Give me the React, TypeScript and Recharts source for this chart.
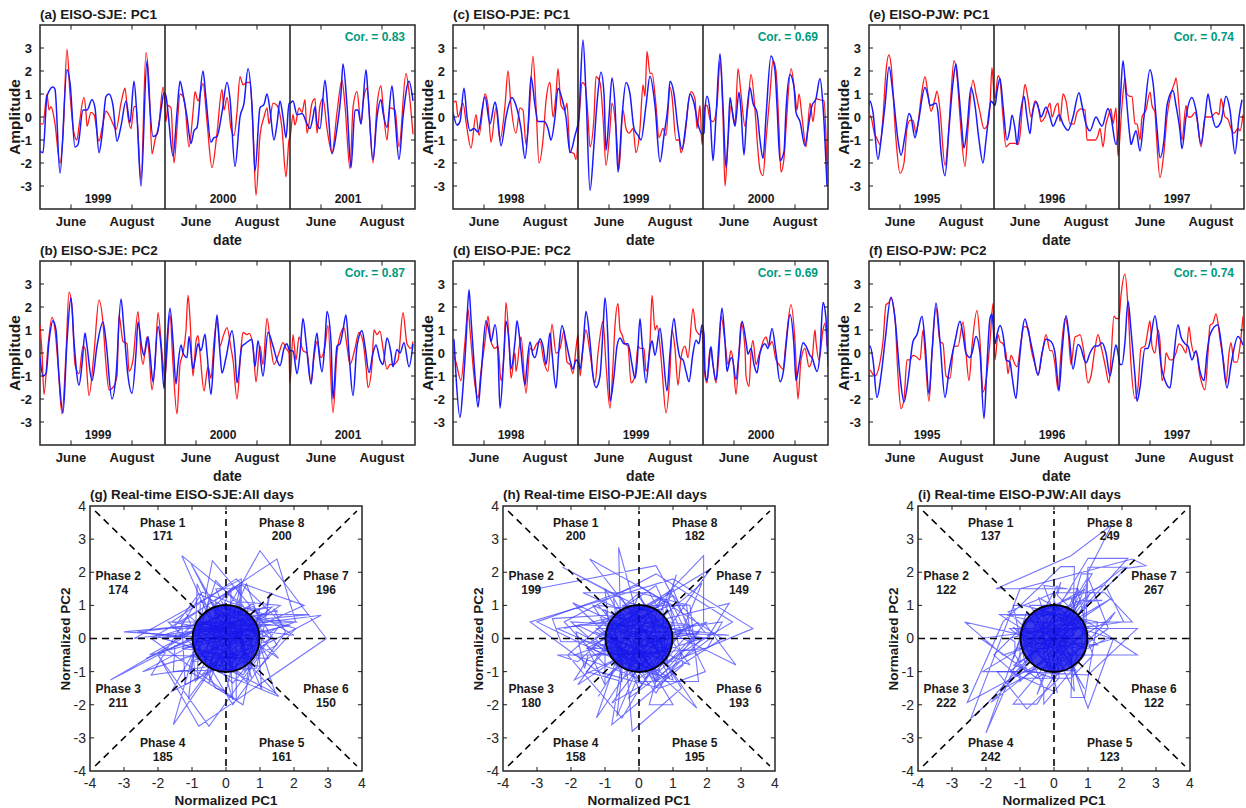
import React from 'react';
import { LineChart, Line, XAxis, YAxis, ReferenceLine, ReferenceArea, ReferenceDot } from 'recharts';

type Pt = [number, number]; // [day of season axis, amplitude]

const FONT = '"Liberation Sans", Arial, Helvetica, sans-serif';
const RED = '#ff1a1a';
const BLUE = '#1a1aff';
const TEAL = '#009b7d';
const INK = '#1a1a1a';

// three summers of 125 days each on one axis, day 0 = 1 May
const monthTicks = [31, 92, 156, 217, 281, 342];
const monthLabels = ['June', 'August', 'June', 'August', 'June', 'August'];
const ampTicks = [-3, -2, -1, 0, 1, 2, 3];
const yearBreaks = [125, 250];
const yearStarts = [0, 125, 250];

const yearsSJE = ['1999', '2000', '2001'];
const yearsPJE = ['1998', '1999', '2000'];
const yearsPJW = ['1995', '1996', '1997'];

const corSJE = [0.83, 0.87];
const corPJE = [0.69, 0.69];
const corPJW = [0.74, 0.74];

// (a) EISO-SJE PC1
const sjePc1Red: Pt[] = [
  [0,-0.3],[3,-0.3],[7,1.0],[9,0.3],[11,0.45],[13,0.2],[15,-0.3],[20,-2.0],[23,-0.8],[27,2.95],[30,1.0],[34,-0.7],[37,-1.0],[39,-0.4],[44,0.85],[46,0.2],[47,-0.4],[51,0.2],[54,0.1],[59,-1.05],[62,-0.5],[66,0.25],[70,0.0],[73,-0.3],[76,-0.55],[81,0.6],[83,1.0],[85,1.25],[88,0],[91,-0.5],[94,0.45],[96,0.45],[101,-2.7],[106,2.8],[109,1.5],[112,-1.6],[115,-1.0],[119,-0.3],[123,1.3],[125,0.5],
  [126,-0.2],[128,0.5],[131,0.4],[134,-2.0],[137,-0.5],[140,1.0],[143,0.9],[145,0.5],[149,-1.3],[153,0.2],[155,1.1],[158,0.7],[163,1.45],[167,-0.2],[172,-2.2],[177,-0.7],[182,1.2],[184,0.3],[187,0.85],[191,-0.5],[194,-0.8],[197,0.2],[200,1.75],[203,1.4],[207,1.5],[210,1.5],[213,-0.5],[216,-3.4],[220,-0.8],[224,0.0],[227,0.4],[229,-0.3],[233,0.6],[237,0.5],[242,-0.5],[246,-2.6],[249,-1.0],
  [250,-0.9],[253,0.1],[255,-0.35],[259,0.4],[262,0.2],[265,0.75],[267,-0.7],[272,0.6],[275,0.8],[277,-0.7],[280,0.5],[283,0.8],[287,-0.5],[292,-1.55],[297,0.2],[302,1.6],[305,0.5],[310,-2.25],[313,0.4],[317,1.1],[321,-0.3],[323,0.6],[327,1.25],[333,-2.0],[337,0.5],[341,1.35],[343,0.5],[347,-1.0],[350,0.4],[355,0.3],[359,-1.3],[366,1.9],[369,1.1],[373,-0.75],
];
const sjePc1Blue: Pt[] = [
  [0,-1.5],[3,-1.55],[7,0.9],[13,1.3],[15,1.2],[20,-2.45],[27,2.05],[30,1.5],[35,-1.3],[38,-1.2],[43,0.3],[47,0.3],[52,0.75],[55,0.4],[59,-1.55],[62,-0.8],[66,0.9],[69,1.0],[73,0.5],[77,-1.05],[81,-0.4],[86,0.7],[90,-0.25],[94,1.55],[97,0],[101,-3.0],[107,2.45],[109,1.0],[113,-0.85],[117,-0.75],[121,0.3],[124,1.05],
  [126,0.9],[128,0.2],[133,-1.7],[137,0.2],[140,1.55],[143,1.0],[147,0.0],[151,-1.15],[154,-0.6],[157,-0.45],[163,2.0],[166,0.8],[171,-1.1],[174,-0.9],[177,-0.85],[182,0.2],[187,1.5],[190,0.8],[195,-2.15],[200,0],[204,0.6],[208,2.1],[212,0.5],[215,-2.35],[220,0.4],[224,0.55],[227,1.0],[230,0.3],[234,-1.0],[237,-0.3],[240,0.7],[243,0],[246,-0.9],[249,0.6],
  [250,0.6],[253,0.7],[257,0.1],[262,0.15],[267,-0.3],[270,-0.5],[273,0.0],[275,0.45],[277,-0.3],[280,-0.5],[285,1.6],[288,0.3],[292,-1.6],[297,-0.5],[301,1.0],[303,2.3],[307,0.5],[311,-2.2],[315,0.3],[318,0.3],[321,-0.3],[326,2.05],[328,1.0],[333,-1.85],[337,0],[341,0.75],[343,0.2],[347,-0.45],[352,1.35],[355,0],[359,-1.85],[363,0],[369,1.55],[373,0.7],
];

// (b) EISO-SJE PC2
const sjePc2Red: Pt[] = [
  [0,1.2],[2,0],[4,-1.8],[8,0.3],[12,1.55],[15,1.0],[18,-0.5],[22,-2.65],[26,0],[29,2.65],[32,2.0],[35,-0.5],[39,-0.9],[43,0.3],[45,0.2],[49,-1.85],[54,0],[59,2.3],[63,1.3],[66,-0.5],[69,-1.6],[73,-1.5],[77,-1.0],[79,1.65],[83,0.5],[87,0.4],[89,-0.8],[93,-0.3],[98,1.8],[101,0],[103,-0.5],[107,0.7],[109,0],[112,-1.6],[115,-0.5],[118,1.75],[122,0],[125,-1.1],
  [126,-0.6],[130,1.65],[133,-0.5],[137,-2.65],[140,-0.5],[143,0],[146,1.0],[148,2.5],[150,1.5],[153,-1.0],[156,0.5],[158,0.75],[160,0],[164,-1.65],[167,-0.8],[168,-0.6],[171,-1.1],[174,0.5],[177,1.4],[180,0.3],[183,0.7],[187,1.1],[191,0.2],[193,-0.3],[197,-2.0],[201,0.2],[203,0.9],[207,0.8],[209,0.85],[213,0.3],[216,-1.25],[220,0.3],[223,-0.5],[227,1.5],[231,0.2],[234,-0.5],[239,0.0],[243,0.45],[246,0.2],[249,0.0],
  [250,-1.3],[253,0.8],[256,-0.3],[259,0.7],[263,0.1],[267,0],[271,-1.3],[274,-0.2],[277,0.5],[281,-0.2],[285,0.3],[288,1.2],[293,-2.6],[297,0.0],[302,1.0],[304,1.1],[307,0.3],[310,-0.5],[315,0.2],[319,0.9],[323,0.5],[326,-0.6],[328,-1.5],[332,-0.5],[334,1.0],[337,0.8],[340,0.95],[343,0.2],[347,-0.7],[350,-0.5],[353,-0.5],[358,-0.3],[363,1.75],[367,0.4],[371,0.2],[373,0.5],
];
const sjePc2Blue: Pt[] = [
  [0,-0.2],[3,-1.0],[6,-0.9],[9,0.5],[13,1.4],[16,1.0],[19,-1.0],[23,-2.6],[27,0.5],[31,2.4],[34,0.5],[39,-1.4],[42,-0.5],[45,0.87],[47,0.3],[52,-1.2],[57,0.3],[63,1.35],[66,0.5],[72,-2.0],[76,-1.0],[81,2.35],[84,1.0],[88,-1.0],[92,-1.75],[96,0],[98,1.35],[102,0.2],[104,-0.1],[108,0.72],[110,0],[113,-1.25],[118,1.15],[121,0.3],[124,-1.55],
  [127,0.5],[130,1.95],[133,0.5],[136,-1.35],[138,-0.5],[141,0.35],[143,0.0],[147,-0.2],[149,0.72],[153,-0.7],[155,-0.3],[158,0.4],[161,0.1],[165,0.82],[167,0],[171,-1.8],[174,0],[177,1.65],[180,0],[182,-0.87],[186,-0.2],[192,0.97],[195,0],[197,-1.3],[202,0.3],[205,0.4],[208,0.5],[212,0.6],[215,-0.6],[218,0.53],[223,-1.0],[228,0.9],[233,0.3],[237,-0.3],[240,-0.55],[244,0.2],[247,0.4],[249,0.15],
  [250,0.1],[253,0.1],[257,-0.9],[260,0],[263,1.5],[266,0.5],[271,-1.35],[274,0],[277,0.87],[279,0],[282,-0.82],[285,0.5],[287,1.8],[291,0.5],[293,-2.0],[297,0.3],[300,0.4],[303,1.0],[306,1.65],[309,0],[313,-1.85],[317,0.3],[322,0.97],[325,0.3],[329,-0.85],[333,0],[336,0.35],[340,-0.3],[343,-0.5],[347,0.65],[351,0],[353,-0.6],[357,0.15],[360,0.0],[364,0.45],[369,-0.6],[373,0.4],
];

// (c) EISO-PJE PC1
const pjePc1Red: Pt[] = [
  [0,0.6],[3,0.7],[5,0],[10,0.6],[13,-0.2],[18,-1.35],[23,0.1],[26,-0.8],[32,1.0],[35,0.5],[38,-1.1],[43,0.4],[47,-1.0],[52,0.5],[55,2.0],[58,0.5],[63,-0.7],[67,0.4],[70,0.3],[73,-1.2],[76,0],[80,2.65],[83,0.5],[86,-2.0],[90,-1.0],[93,0.7],[97,1.5],[100,0.0],[103,1.0],[105,2.1],[108,0.5],[112,0.3],[114,0.6],[117,-1.5],[121,-1.6],[123,-1.85],
  [127,0.5],[129,1.5],[132,1.4],[135,0],[137,-1.3],[141,0],[143,1.75],[147,1.5],[150,0],[153,-2.1],[157,-0.5],[159,0.6],[163,-0.5],[166,-2.25],[170,0.3],[173,-0.5],[176,-0.7],[180,-0.5],[183,-1.55],[187,-0.5],[190,1.4],[192,0.9],[194,2.85],[197,1.9],[199,1.9],[203,0.5],[206,-0.9],[210,-0.5],[213,-0.8],[217,1.3],[219,0.9],[223,-1.0],[226,-1.0],[228,-1.55],[232,-0.8],[235,0.5],[238,1.1],[242,0.8],[244,-0.5],[247,0.5],[249,-1.2],
  [252,0.5],[254,0.5],[257,-0.1],[260,-0.2],[264,0.5],[267,2.45],[270,0],[272,-3.0],[275,-1.0],[278,0.5],[282,-0.3],[285,2.1],[288,1.0],[292,-0.4],[295,0.5],[298,1.85],[302,0.3],[305,-1.5],[307,-2.3],[310,-2.55],[313,-1.0],[317,1.0],[320,2.45],[323,2.0],[326,-0.5],[328,-2.4],[331,-1.8],[333,-0.5],[338,2.1],[342,1.0],[344,0.3],[346,1.0],[349,0],[353,-1.3],[357,0.6],[360,-0.2],[363,0.8],[367,0.75],[371,0.7],[374,-2.2],
];
const pjePc1Blue: Pt[] = [
  [0,0.2],[4,-0.35],[7,-0.2],[11,1.25],[14,0],[17,-0.6],[21,-0.5],[25,-0.65],[32,0.88],[37,-0.3],[42,0.65],[44,0.3],[48,-1.25],[53,0],[59,0.85],[63,0.5],[68,-0.5],[72,-1.8],[75,-0.5],[78,1.75],[82,0.5],[85,-0.2],[91,-0.2],[95,-0.5],[98,-1.0],[102,0],[105,1.25],[109,0.8],[113,0.0],[117,-1.55],[122,-0.8],[126,0],
  [127,1.0],[130,3.35],[133,1.0],[137,-3.2],[141,-1.2],[144,0.6],[148,1.95],[151,1.0],[153,-1.45],[156,0],[159,1.7],[162,0.5],[165,-2.4],[169,0],[173,1.5],[177,1.0],[181,-0.5],[185,-0.8],[188,-1.0],[193,0.5],[197,1.77],[202,0.5],[207,-1.95],[211,-0.8],[215,0.5],[217,1.55],[221,1.0],[225,-0.5],[229,-1.4],[233,-0.3],[237,1.0],[241,0.6],[245,-0.3],[249,-0.75],[251,-0.7],
  [252,0.3],[254,0.9],[257,0.2],[260,-1.9],[263,0],[267,2.75],[270,0.5],[273,-2.2],[275,-1.0],[277,0.85],[280,0.0],[282,-0.4],[286,1.08],[288,0.3],[291,-1.65],[294,0.3],[297,1.27],[300,0.6],[304,0.2],[307,-1.0],[310,-1.8],[313,0],[318,2.65],[322,2.0],[324,0.5],[327,-1.9],[331,-1.5],[333,0.3],[337,1.85],[341,1.3],[343,0.2],[347,-0.2],[352,-1.25],[355,-0.5],[359,0.5],[363,0.8],[367,1.67],[370,0.5],[374,-3.0],
];

// (d) EISO-PJE PC2
const pjePc2Red: Pt[] = [
  [0,0],[3,-0.4],[8,-1.2],[12,0.5],[15,1.9],[17,1.0],[22,-1.4],[25,-1.95],[28,-0.8],[32,0.5],[35,1.6],[38,0.5],[42,0.2],[45,0.3],[48,-1.2],[51,0],[53,2.2],[56,0.5],[58,-1.1],[62,0.0],[63,-0.8],[67,0.5],[68,0.7],[73,-1.75],[77,0.2],[80,0.1],[83,0.35],[87,0.5],[91,-0.4],[95,-0.8],[99,1.25],[103,0],[107,0.2],[111,0.95],[114,-0.4],[117,-0.5],[120,-0.9],[123,0.2],[125,0.8],
  [127,-1.0],[130,0.2],[133,1.0],[137,0],[142,-1.3],[145,0.0],[148,1.0],[150,1.38],[153,-0.5],[157,-2.4],[160,-0.5],[162,1.2],[165,2.15],[167,1.0],[169,0.8],[172,0.4],[175,0.3],[178,-1.3],[182,-1.0],[185,0.3],[187,0.2],[191,0.2],[193,-0.8],[197,0.5],[199,2.5],[202,1.0],[204,1.2],[207,0.3],[209,-0.7],[213,-2.6],[217,-0.8],[219,1.0],[222,0.2],[225,-1.4],[228,-0.2],[232,0.3],[235,-0.2],[240,1.93],[243,1.0],[247,0.8],[249,1.0],
  [252,-1.0],[254,-1.3],[257,0.2],[260,-0.5],[263,-1.3],[266,0],[268,1.6],[272,0.5],[275,-0.5],[278,0.1],[280,-0.3],[283,-1.8],[286,0],[288,1.3],[292,0.2],[293,-1.0],[296,-1.45],[298,0],[300,0.55],[303,-0.5],[306,-0.1],[311,0.6],[313,0.7],[316,0.3],[319,0.5],[323,-0.3],[326,-0.5],[330,-0.7],[333,0.5],[338,2.1],[342,0.5],[345,-2.0],[348,-0.3],[352,0.2],[356,-0.6],[359,-0.3],[362,1.0],[363,0.5],[366,-0.3],[370,1.0],[372,1.3],[374,0.3],
];
const pjePc2Blue: Pt[] = [
  [1,0.6],[3,-1.0],[7,-2.8],[10,-1.5],[13,0.5],[16,2.75],[18,1.5],[22,-1.0],[25,-2.35],[28,-1.0],[33,1.4],[37,0.7],[38,0.5],[42,1.23],[45,0],[47,-2.4],[51,0],[53,1.38],[56,0.5],[58,-0.7],[62,0.5],[64,1.4],[67,0.5],[72,-1.4],[74,-0.5],[77,0.48],[80,-0.1],[82,-0.2],[87,0.62],[90,0.3],[93,-0.5],[97,0.87],[99,0],[103,-1.52],[106,0.2],[109,1.2],[113,0.5],[117,-0.3],[120,-0.7],[123,-0.3],[126,-0.5],
  [127,-0.7],[130,0.3],[133,1.8],[137,0.5],[140,-1.0],[143,-1.5],[147,-1.0],[150,1.0],[152,2.4],[155,0.5],[157,-2.1],[161,-1.0],[164,0.3],[167,0.65],[171,0.4],[175,0.4],[179,-0.5],[182,-1.1],[184,-0.5],[187,1.5],[189,0.5],[193,-1.3],[197,0.2],[199,0.53],[202,-0.1],[207,1.08],[210,0],[214,-1.65],[217,0],[221,1.5],[224,0.5],[227,-0.2],[230,-0.3],[233,-0.8],[236,-1.25],[240,0],[243,0.55],[246,0.4],[249,1.23],[251,0.8],
  [252,-0.8],[254,-1.2],[258,0.28],[260,-0.5],[263,-1.2],[266,0.5],[269,1.95],[272,0.5],[274,-0.8],[277,-0.3],[279,-0.2],[283,-1.15],[286,0],[289,1.38],[293,0.5],[295,-0.05],[298,0.2],[301,-0.5],[304,-0.87],[307,0.0],[312,0.4],[315,0.2],[319,1.06],[323,0],[327,-1.25],[331,-0.6],[333,0.3],[337,1.67],[341,0.3],[343,-1.2],[346,-0.5],[350,0.45],[353,0.3],[357,-0.1],[359,-0.2],[364,-0.8],[367,0],[370,2.2],[373,1.5],[375,-0.6],
];

// (e) EISO-PJW PC1
const pjwPc1Red: Pt[] = [
  [0,0.1],[2,0.0],[6,-0.8],[7,-0.85],[11,-1.2],[14,0.0],[17,2.0],[20,2.7],[22,2.3],[27,-1.0],[31,-2.45],[35,-2.0],[38,-0.5],[41,-0.15],[44,-0.15],[47,-0.7],[49,-0.3],[52,0.8],[56,1.75],[59,1.0],[62,0.25],[66,0.8],[68,1.12],[71,0.3],[76,-2.1],[79,-1.0],[82,1.0],[85,2.45],[88,1.8],[91,0],[96,-2.15],[99,-0.5],[104,1.6],[107,1.0],[111,0.2],[115,-0.5],[119,-0.3],[121,0.5],[123,2.15],[125,1.0],
  [126,0.8],[129,1.8],[131,1.6],[134,0.0],[137,-1.3],[141,-1.15],[146,-1.15],[149,-1.2],[151,-0.8],[154,0.8],[156,1.42],[159,0.8],[162,0.0],[166,0.7],[169,0.5],[172,-0.2],[176,0.0],[181,0.6],[183,0.0],[187,0.5],[189,0.6],[191,-0.2],[194,1.0],[197,0.7],[201,-0.3],[205,-0.3],[208,0.2],[212,0.35],[216,0.3],[218,-1.0],[222,-1.0],[226,-1.0],[229,-0.8],[231,-0.5],[234,-1.3],[237,-0.3],[239,0.0],[242,0.35],[244,-0.3],[247,0.4],[249,-1.7],
  [253,0.5],[256,1.7],[258,1.0],[261,0.9],[263,0.9],[266,-0.3],[268,-0.3],[271,-1.0],[273,0.0],[277,0.3],[281,1.08],[283,0.5],[286,0.2],[287,-0.5],[291,-2.63],[295,-1.5],[298,0.0],[302,1.0],[306,1.55],[307,1.7],[310,0.5],[313,-1.0],[317,0.5],[319,0.0],[322,0.0],[326,0.2],[328,-0.1],[332,-1.3],[336,0.0],[339,0.0],[342,0.0],[347,0.2],[350,0.1],[352,0.8],[356,0.0],[359,-0.1],[362,-0.5],[365,-0.7],[369,-0.5],[371,-0.6],[374,0.1],
];
const pjwPc1Blue: Pt[] = [
  [0,0.5],[1,0.7],[4,0.2],[9,-1.85],[12,-1.0],[16,0.5],[20,2.17],[24,1.0],[29,-1.0],[32,-1.67],[36,-0.8],[40,0.15],[42,0],[46,-0.9],[49,-0.3],[56,1.28],[59,0.9],[61,0.5],[67,0.6],[69,0.2],[72,-1.5],[76,-2.55],[80,-0.5],[84,1.5],[87,2.3],[89,1.5],[92,0],[95,-1.35],[98,-0.5],[102,1.28],[106,0.5],[110,-1.0],[114,-2.0],[117,-1.0],[121,0.5],[122,0.7],
  [126,0.5],[128,1.1],[131,1.67],[134,0.5],[138,-1.0],[141,-0.5],[143,0.08],[146,-0.5],[148,-1.2],[151,0],[155,0.9],[158,0],[161,-0.72],[163,0],[167,0.65],[170,0.3],[172,0.0],[177,0.42],[181,0],[184,-0.4],[190,0.1],[194,-0.3],[199,-0.58],[204,0],[210,1.05],[213,0.5],[217,-0.3],[221,-0.6],[227,0.0],[231,-0.3],[233,-0.4],[239,0.37],[242,0],[247,-1.2],[249,-0.8],
  [251,0.5],[254,2.45],[257,1.0],[261,-0.9],[262,-1.2],[265,-0.8],[267,-0.6],[271,-1.48],[275,0],[281,2.05],[284,1.5],[288,-0.5],[291,-1.77],[295,-1.0],[298,0.5],[304,1.15],[307,0.5],[311,-0.6],[313,-1.38],[317,0],[323,0.85],[327,0.3],[332,-1.18],[336,0],[339,1.0],[342,0.3],[347,-0.45],[352,-0.2],[357,0.9],[361,0.3],[366,-1.6],[370,0],[373,0.75],
];

// (f) EISO-PJW PC2
const pjwPc2Red: Pt[] = [
  [0,-0.7],[2,-0.8],[6,-1.0],[11,-0.4],[14,0.5],[17,2.1],[20,2.2],[22,2.4],[26,1.5],[29,-1.0],[32,-2.42],[35,-2.0],[38,-0.3],[41,-0.3],[44,-0.1],[47,-0.15],[51,-0.3],[54,1.0],[56,0.0],[60,-2.1],[63,0],[67,1.95],[71,0.5],[74,0.4],[77,-1.0],[81,-1.1],[85,0.3],[89,0.3],[94,1.35],[97,0.0],[100,-1.2],[103,0.3],[108,1.85],[111,0.5],[114,-1.7],[117,-1.2],[121,0.5],[124,2.15],
  [126,-0.3],[129,0.8],[131,0.5],[134,0.4],[137,0.0],[139,-0.9],[142,-0.1],[146,-0.5],[148,-0.6],[152,0.5],[155,1.15],[159,1.1],[162,0.2],[166,-0.5],[169,-0.95],[174,0.2],[177,0.8],[181,0.1],[183,0.1],[186,-0.5],[189,-1.6],[192,0.0],[196,1.5],[199,1.0],[202,-0.5],[206,0.7],[209,0.75],[211,0.8],[215,0.0],[219,-1.3],[222,-1.0],[226,0.2],[229,0.8],[232,0.3],[236,-0.5],[240,-1.3],[242,-0.2],[245,1.6],[247,1.5],[249,1.5],
  [250,1.5],[252,2.5],[256,3.43],[259,2.0],[262,-0.5],[266,-1.98],[269,-1.5],[272,0.2],[276,0.3],[279,1.0],[281,1.4],[283,0.3],[286,0.0],[289,1.0],[291,0.5],[293,-1.2],[296,-0.5],[297,0.0],[301,-0.3],[303,-0.3],[307,0.0],[310,0.4],[313,0.3],[317,0.0],[320,1.15],[322,0.5],[325,0.0],[327,0.05],[331,-1.0],[336,-1.6],[339,0],[341,1.2],[344,1.3],[347,1.7],[349,1.3],[351,0.6],[355,-0.5],[357,-1.3],[360,0.0],[362,0.45],[365,-0.4],[368,-0.4],[371,0.3],[374,1.6],
];
const pjwPc2Blue: Pt[] = [
  [0,0.2],[1,0.3],[4,-0.3],[8,-1.93],[12,-1.0],[16,0.5],[22,2.42],[26,1.5],[31,-1.0],[35,-2.13],[39,-1.2],[44,0.5],[48,0.8],[53,1.6],[56,0.5],[60,-1.78],[63,0],[67,2.17],[71,0.5],[76,-1.93],[80,-0.8],[86,0.5],[91,1.38],[94,0.8],[97,0.0],[101,-0.2],[103,0.0],[107,0.72],[111,0],[115,-2.85],[118,-0.5],[121,1.5],[123,1.7],[125,0.7],
  [126,0.4],[128,0.8],[131,1.2],[135,0.5],[137,-0.3],[141,-0.4],[143,-1.0],[147,-1.98],[150,-0.5],[156,1.48],[159,1.0],[164,0],[169,-0.97],[173,0],[177,0.6],[182,0.5],[186,0],[190,-1.65],[193,0],[197,1.62],[200,0.8],[204,-0.7],[209,0.37],[211,0.3],[217,-0.43],[221,0.0],[226,0.3],[229,0.3],[233,0.45],[237,0],[241,-1.0],[244,-0.3],[247,0.35],[249,0.0],
  [251,-0.5],[253,-0.5],[256,0.5],[259,2.25],[262,1.0],[266,-1.0],[268,-2.1],[271,-1.5],[276,0.2],[279,0.2],[281,0.5],[286,1.62],[289,0.8],[292,-0.5],[296,-1.2],[301,-1.52],[304,-0.5],[309,1.23],[312,0.7],[316,0.4],[319,0.3],[323,-0.3],[327,0.1],[331,-0.8],[335,-1.2],[338,0],[341,0.8],[349,1.23],[352,0.5],[358,-1.52],[362,-0.5],[369,0.72],[374,0.35],
];

// phase diagrams
const phaseTicks = [-4, -3, -2, -1, 0, 1, 2, 3, 4];
const phaseNames = ['Phase 1', 'Phase 2', 'Phase 3', 'Phase 4', 'Phase 5', 'Phase 6', 'Phase 7', 'Phase 8'];
const phaseDaysSJE = [171, 174, 211, 185, 161, 150, 196, 200];
const phaseDaysPJE = [200, 199, 180, 158, 195, 193, 149, 182];
const phaseDaysPJW = [137, 122, 222, 242, 123, 122, 267, 249];
const phaseLabelAt: Pt[] = [
  [-1.86, 3.29], [-3.17, 1.67], [-3.17, -1.73], [-1.86, -3.36],
  [1.64, -3.36], [2.94, -1.73], [2.94, 1.67], [1.64, 3.29],
];
// phase boundaries: the two axes and the four diagonals outside the unit circle
const phaseGuides: Pt[][] = [
  [[-4, 0], [4, 0]],
  [[0, -3.85], [0, 3.85]],
  [[-3.85, 3.85], [-0.71, 0.71]],
  [[0.71, 0.71], [3.85, 3.85]],
  [[-3.85, -3.85], [-0.71, -0.71]],
  [[0.71, -0.71], [3.85, -3.85]],
];

const toPts = (arr: Pt[]) => arr.map(([d, v]) => ({ d, v }));
const toXY = (arr: Pt[]) => arr.map(([x, y]) => ({ x, y }));

// PC1 against PC2 of the same day (nearest sampled day)
const pairUp = (pc1: Pt[], pc2: Pt[]) =>
  pc1.map(([d, v]) => {
    let best = pc2[0];
    for (const p of pc2) if (Math.abs(p[0] - d) < Math.abs(best[0] - d)) best = p;
    return { x: v, y: best[1] };
  });

const TS_W = 375;
const TS_H = 184;
const PW = 272;
const PH = 265;
const R_PX = 33.5; // radius of the unit circle in pixels

const seg = (x1: number, y1: number, x2: number, y2: number) => [{ x: x1, y: y1 }, { x: x2, y: y2 }];

const textDot = (label: string, opts: { anchor?: string; size?: number; color?: string }) =>
  (p: any) => (
    <text x={p.cx} y={p.cy} textAnchor={opts.anchor || 'middle'} dominantBaseline="central"
      fontSize={opts.size || 12} fontWeight={700} fill={opts.color || INK} fontFamily={FONT}>
      {label}
    </text>
  );

const phaseShape = (name: string, n: number) => (p: any) => (
  <text textAnchor="middle" fontSize={12} fontWeight={700} fill={INK} fontFamily={FONT}>
    <tspan x={p.cx} y={Number(p.cy) - 6.8} dominantBaseline="central">{name}</tspan>
    <tspan x={p.cx} y={Number(p.cy) + 6.8} dominantBaseline="central">{n}</tspan>
  </text>
);

function TimePanel({ x, y, title, cor, years, red, blue }: {
  x: number; y: number; title: string; cor: number; years: string[]; red: Pt[]; blue: Pt[];
}) {
  return (
    <>
      <div style={{ position: 'absolute', left: x, top: y - 18, fontSize: 13.5, fontWeight: 700, whiteSpace: 'nowrap' }}>{title}</div>
      <div style={{ position: 'absolute', left: x - 25, top: y + TS_H / 2, transform: 'translate(-50%,-50%) rotate(-90deg)', fontSize: 15.5, fontWeight: 700 }}>Amplitude</div>
      <div style={{ position: 'absolute', left: x + TS_W / 2, top: y + TS_H + 31, transform: 'translate(-50%,-50%)', fontSize: 14, fontWeight: 700 }}>date</div>
      <div style={{ position: 'absolute', left: x - 40, top: y - 25 }}>
        <LineChart width={40 + TS_W + 2} height={25 + TS_H + 30} margin={{ top: 25, right: 2, bottom: 0, left: 0 }}>
          <XAxis type="number" dataKey="d" domain={[0, 375]} ticks={monthTicks} interval={0} allowDataOverflow
            tickFormatter={(v: number) => monthLabels[monthTicks.indexOf(v)]}
            tick={{ fontSize: 13, fontWeight: 700, fill: INK }} tickLine={false} axisLine={false} height={30} />
          <YAxis type="number" domain={[-4, 4]} ticks={ampTicks} interval={0} allowDataOverflow
            tick={{ fontSize: 13, fontWeight: 700, fill: INK }} tickLine={false} axisLine={false} width={40} />
          <Line data={toPts(red)} dataKey="v" type="monotone" stroke={RED} strokeWidth={1.3} dot={false} isAnimationActive={false} />
          <Line data={toPts(blue)} dataKey="v" type="monotone" stroke={BLUE} strokeWidth={1.5} dot={false} isAnimationActive={false} />
          {yearBreaks.map((b) => (
            <ReferenceLine key={'yb' + b} x={b} stroke={INK} strokeWidth={1.5} />
          ))}
          {ampTicks.map((t) => (
            <ReferenceLine key={'l' + t} segment={seg(0, t, 4, t)} stroke={INK} />
          ))}
          {ampTicks.map((t) => (
            <ReferenceLine key={'r' + t} segment={seg(371, t, 375, t)} stroke={INK} />
          ))}
          {monthTicks.map((m) => (
            <ReferenceLine key={'b' + m} segment={seg(m, -4, m, -3.8)} stroke={INK} />
          ))}
          {monthTicks.map((m) => (
            <ReferenceLine key={'t' + m} segment={seg(m, 4, m, 3.8)} stroke={INK} />
          ))}
          {years.map((yr, i) => (
            <ReferenceDot key={yr} x={yearStarts[i] + 58} y={-3.55} r={0} shape={textDot(yr, { size: 12 })} />
          ))}
          <ReferenceDot x={365} y={3.48} r={0} shape={textDot(`Cor. = ${cor.toFixed(2)}`, { anchor: 'end', size: 12, color: TEAL })} />
          <ReferenceArea x1={0} x2={375} y1={-4} y2={4} fill="none" fillOpacity={0} stroke="#262626" strokeWidth={1.5} />
        </LineChart>
      </div>
    </>
  );
}

function PhasePanel({ x, y, title, days, paths }: {
  x: number; y: number; title: string; days: number[]; paths: { x: number; y: number }[][];
}) {
  return (
    <>
      <div style={{ position: 'absolute', left: x, top: y - 19, fontSize: 13.5, fontWeight: 700, whiteSpace: 'nowrap' }}>{title}</div>
      <div style={{ position: 'absolute', left: x - 25, top: y + PH / 2, transform: 'translate(-50%,-50%) rotate(-90deg)', fontSize: 13.5, fontWeight: 700, whiteSpace: 'nowrap' }}>Normalized PC2</div>
      <div style={{ position: 'absolute', left: x + PW / 2, top: y + PH + 29, transform: 'translate(-50%,-50%)', fontSize: 13.5, fontWeight: 700, whiteSpace: 'nowrap' }}>Normalized PC1</div>
      <div style={{ position: 'absolute', left: x - 50, top: y - 10 }}>
        <LineChart width={50 + PW + 8} height={10 + PH + 30} margin={{ top: 10, right: 8, bottom: 0, left: 0 }}>
          <XAxis type="number" dataKey="x" domain={[-4, 4]} ticks={phaseTicks} interval={0} allowDataOverflow
            tick={{ fontSize: 14, fill: '#262626' }} tickLine={false} axisLine={false} tickSize={4} tickMargin={3} height={30} />
          <YAxis type="number" domain={[-4, 4]} ticks={phaseTicks} interval={0} allowDataOverflow
            tick={{ fontSize: 14, fill: '#262626' }} tickLine={false} axisLine={false} tickSize={2} tickMargin={2} width={50} />
          {paths.map((p, i) => (
            <Line key={i} data={p} dataKey="y" type="linear" stroke="#3a3aff" strokeOpacity={0.7} strokeWidth={1.1}
              dot={false} isAnimationActive={false} />
          ))}
          {phaseGuides.map((g, i) => (
            <Line key={'g' + i} data={toXY(g)} dataKey="y" type="linear" stroke="#000" strokeWidth={1.6}
              strokeDasharray="7 5" dot={false} activeDot={false} isAnimationActive={false} />
          ))}
          {/* translucent fill lets the dashed axes show through the unit circle */}
          <ReferenceDot x={0} y={0} r={R_PX} fill="#0a0ae6" fillOpacity={0.8} stroke="#000" strokeWidth={1.8} />
          {phaseTicks.slice(1, -1).map((t) => (
            <ReferenceLine key={'pl' + t} segment={seg(-4, t, -3.88, t)} stroke={INK} />
          ))}
          {phaseTicks.slice(1, -1).map((t) => (
            <ReferenceLine key={'pr' + t} segment={seg(3.88, t, 4, t)} stroke={INK} />
          ))}
          {phaseTicks.slice(1, -1).map((t) => (
            <ReferenceLine key={'pb' + t} segment={seg(t, -4, t, -3.88)} stroke={INK} />
          ))}
          {phaseTicks.slice(1, -1).map((t) => (
            <ReferenceLine key={'pt' + t} segment={seg(t, 3.88, t, 4)} stroke={INK} />
          ))}
          {phaseNames.map((name, i) => (
            <ReferenceDot key={name} x={phaseLabelAt[i][0]} y={phaseLabelAt[i][1]} r={0} shape={phaseShape(name, days[i])} />
          ))}
          <ReferenceArea x1={-4} x2={4} y1={-4} y2={4} fill="none" fillOpacity={0} stroke="#262626" strokeWidth={1.5} />
        </LineChart>
      </div>
    </>
  );
}

export default function App() {
  return (
    <div style={{ position: 'absolute', left: 0, top: 0, width: 1246, height: 808, background: '#fff', fontFamily: FONT, color: INK, overflow: 'hidden' }}>
      <TimePanel x={40} y={25} title="(a) EISO-SJE: PC1" cor={corSJE[0]} years={yearsSJE} red={sjePc1Red} blue={sjePc1Blue} />
      <TimePanel x={40} y={261} title="(b) EISO-SJE: PC2" cor={corSJE[1]} years={yearsSJE} red={sjePc2Red} blue={sjePc2Blue} />
      <TimePanel x={453} y={25} title="(c) EISO-PJE: PC1" cor={corPJE[0]} years={yearsPJE} red={pjePc1Red} blue={pjePc1Blue} />
      <TimePanel x={453} y={261} title="(d) EISO-PJE: PC2" cor={corPJE[1]} years={yearsPJE} red={pjePc2Red} blue={pjePc2Blue} />
      <TimePanel x={869} y={25} title="(e) EISO-PJW: PC1" cor={corPJW[0]} years={yearsPJW} red={pjwPc1Red} blue={pjwPc1Blue} />
      <TimePanel x={869} y={261} title="(f) EISO-PJW: PC2" cor={corPJW[1]} years={yearsPJW} red={pjwPc2Red} blue={pjwPc2Blue} />
      <PhasePanel x={90} y={506} title="(g) Real-time EISO-SJE:All days" days={phaseDaysSJE}
        paths={[pairUp(sjePc1Blue, sjePc2Blue), pairUp(sjePc1Red, sjePc2Red)]} />
      <PhasePanel x={503} y={506} title="(h) Real-time EISO-PJE:All days" days={phaseDaysPJE}
        paths={[pairUp(pjePc1Blue, pjePc2Blue), pairUp(pjePc1Red, pjePc2Red)]} />
      <PhasePanel x={918} y={506} title="(i) Real-time EISO-PJW:All days" days={phaseDaysPJW}
        paths={[pairUp(pjwPc1Blue, pjwPc2Blue), pairUp(pjwPc1Red, pjwPc2Red)]} />
    </div>
  );
}
